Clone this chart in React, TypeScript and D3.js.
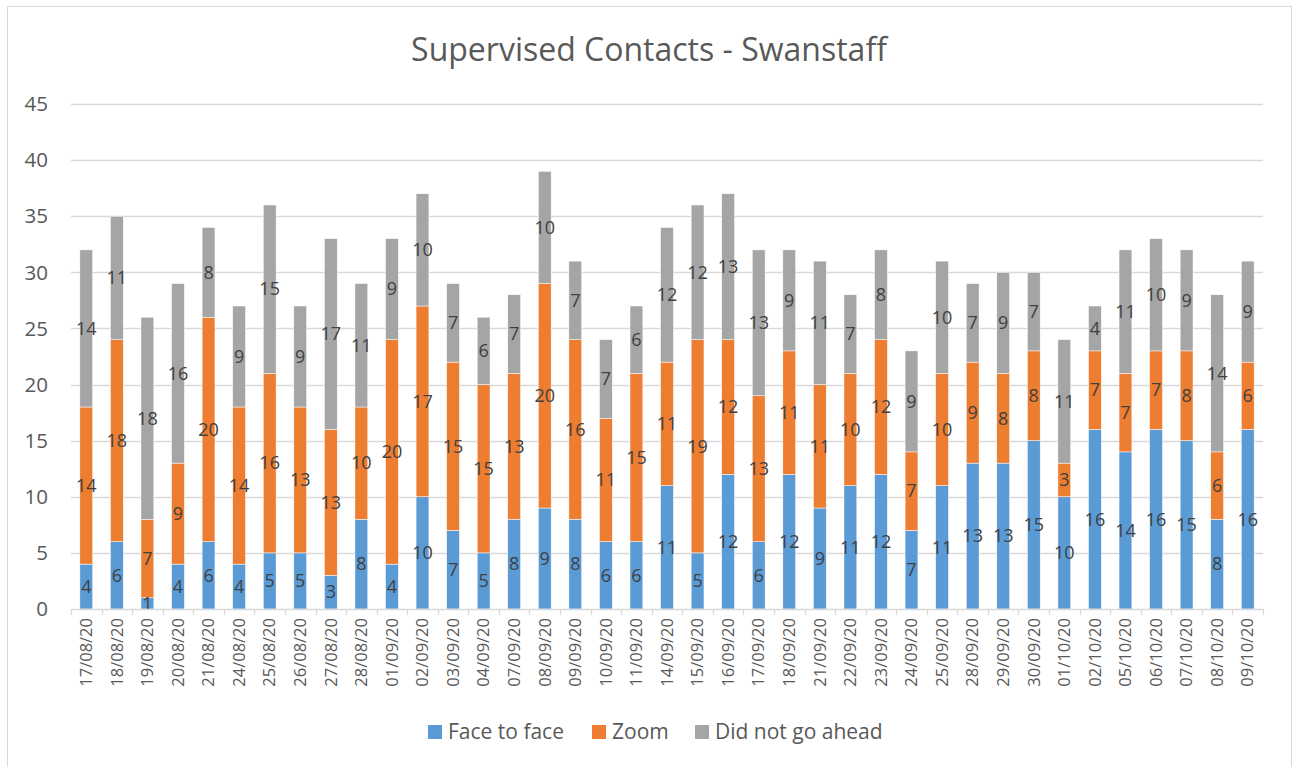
import { useRef, useEffect } from 'react';
import * as d3 from 'd3';

const W = 1293;
const H = 767;
const MARGIN = { top: 104, right: 30, bottom: 158, left: 71 };

const dates = [
  '17/08/20', '18/08/20', '19/08/20', '20/08/20', '21/08/20', '24/08/20', '25/08/20', '26/08/20',
  '27/08/20', '28/08/20', '01/09/20', '02/09/20', '03/09/20', '04/09/20', '07/09/20', '08/09/20',
  '09/09/20', '10/09/20', '11/09/20', '14/09/20', '15/09/20', '16/09/20', '17/09/20', '18/09/20',
  '21/09/20', '22/09/20', '23/09/20', '24/09/20', '25/09/20', '28/09/20', '29/09/20', '30/09/20',
  '01/10/20', '02/10/20', '05/10/20', '06/10/20', '07/10/20', '08/10/20', '09/10/20',
];
const faceToFace = [4, 6, 1, 4, 6, 4, 5, 5, 3, 8, 4, 10, 7, 5, 8, 9, 8, 6, 6, 11, 5, 12, 6, 12, 9, 11, 12, 7, 11, 13, 13, 15, 10, 16, 14, 16, 15, 8, 16];
const zoom = [14, 18, 7, 9, 20, 14, 16, 13, 13, 10, 20, 17, 15, 15, 13, 20, 16, 11, 15, 11, 19, 12, 13, 11, 11, 10, 12, 7, 10, 9, 8, 8, 3, 7, 7, 7, 8, 6, 6];
const didNotGoAhead = [14, 11, 18, 16, 8, 9, 15, 9, 17, 11, 9, 10, 7, 6, 7, 10, 7, 7, 6, 12, 12, 13, 13, 9, 11, 7, 8, 9, 10, 7, 9, 7, 11, 4, 11, 10, 9, 14, 9];

const seriesNames = ['Face to face', 'Zoom', 'Did not go ahead'];
const seriesColors = ['#5b9bd5', '#ed7d31', '#a5a5a5'];
const yTicks = [0, 5, 10, 15, 20, 25, 30, 35, 40, 45];

const FONT = '"Open Sans", "Noto Sans", sans-serif';

export default function App() {
  const svgRef = useRef<SVGSVGElement>(null);

  useEffect(() => {
    if (!svgRef.current) return;
    const svg = d3.select(svgRef.current);
    svg.selectAll('*').remove();

    // chart frame
    svg.append('rect')
      .attr('x', 7.5).attr('y', 6.5).attr('width', 1284).attr('height', 780)
      .attr('fill', '#fff').attr('stroke', '#d9d9d9').attr('stroke-width', 1);

    svg.append('text')
      .attr('x', 649).attr('y', 61).attr('text-anchor', 'middle')
      .attr('fill', '#595959').style('font-family', FONT).style('font-size', '32px')
      .text('Supervised Contacts - Swanstaff');

    const innerW = W - MARGIN.left - MARGIN.right;
    const innerH = H - MARGIN.top - MARGIN.bottom;
    const g = svg.append('g').attr('transform', `translate(${MARGIN.left},${MARGIN.top})`);

    const x = d3.scaleBand<string>().domain(dates).range([0, innerW]).paddingInner(0.58).paddingOuter(0.29);
    const y = d3.scaleLinear().domain([0, 45]).range([innerH, 0]);

    // gridlines
    g.append('g').selectAll('line').data(yTicks.filter(t => t > 0)).join('line')
      .attr('x1', 0).attr('x2', innerW)
      .attr('y1', d => Math.round(y(d)) + 0.5).attr('y2', d => Math.round(y(d)) + 0.5)
      .attr('stroke', '#d9d9d9').attr('stroke-width', 1.3);

    g.append('g').selectAll('text').data(yTicks).join('text')
      .attr('x', -23).attr('y', d => y(d)).attr('dy', '0.35em').attr('text-anchor', 'end')
      .attr('fill', '#595959').style('font-family', FONT).style('font-size', '20.5px')
      .text(d => d);

    const rows = dates.map((d, i) => ({ date: d, f: faceToFace[i], z: zoom[i], n: didNotGoAhead[i] }));
    const stack = d3.stack<any>().keys(['f', 'z', 'n'])(rows);

    stack.forEach((layer, li) => {
      const lg = g.append('g');
      lg.selectAll('rect').data(layer).join('rect')
        .attr('x', d => x(d.data.date)!)
        .attr('width', x.bandwidth())
        .attr('y', d => y(d[1]))
        .attr('height', d => y(d[0]) - y(d[1]))
        .attr('fill', seriesColors[li])
        .attr('stroke', '#fff').attr('stroke-width', 0.5);
    });
    stack.forEach(layer => {
      g.append('g').selectAll('text').data(layer).join('text')
        .attr('x', d => x(d.data.date)! + x.bandwidth() / 2)
        .attr('y', d => (y(d[0]) + y(d[1])) / 2)
        .attr('dy', '0.35em').attr('text-anchor', 'middle')
        .attr('fill', '#404040').style('font-family', FONT).style('font-size', '18px')
        .text(d => d[1] - d[0]);
    });

    // x axis
    const ax = g.append('g').attr('transform', `translate(0,${innerH})`);
    ax.append('line').attr('x1', 0).attr('x2', innerW).attr('y1', 0.5).attr('y2', 0.5)
      .attr('stroke', '#d9d9d9').attr('stroke-width', 1.3);
    const boundaries = d3.range(dates.length + 1).map(i => i * innerW / dates.length);
    ax.selectAll('line.tick').data(boundaries).join('line').attr('class', 'tick')
      .attr('x1', d => Math.round(d) + 0.5).attr('x2', d => Math.round(d) + 0.5)
      .attr('y1', 0).attr('y2', 6).attr('stroke', '#d9d9d9').attr('stroke-width', 1.3);
    ax.selectAll('text').data(dates).join('text')
      .attr('transform', d => `translate(${x(d)! + x.bandwidth() / 2},9) rotate(-90)`)
      .attr('text-anchor', 'end').attr('dy', '0.35em')
      .attr('fill', '#595959').style('font-family', FONT).style('font-size', '16.5px')
      .text(d => d);

    // legend
    const legendX = [428, 592, 695];
    const lgd = svg.append('g');
    seriesNames.forEach((name, i) => {
      lgd.append('rect').attr('x', legendX[i]).attr('y', 725).attr('width', 14).attr('height', 14)
        .attr('fill', seriesColors[i]);
      lgd.append('text').attr('x', legendX[i] + 20).attr('y', 732).attr('dy', '0.35em')
        .attr('fill', '#595959').style('font-family', FONT).style('font-size', '21px')
        .text(name);
    });
  }, []);

  return (
    <svg ref={svgRef} width={W} height={H}
      style={{ position: 'absolute', left: 0, top: 0, background: '#fff' }} />
  );
}
